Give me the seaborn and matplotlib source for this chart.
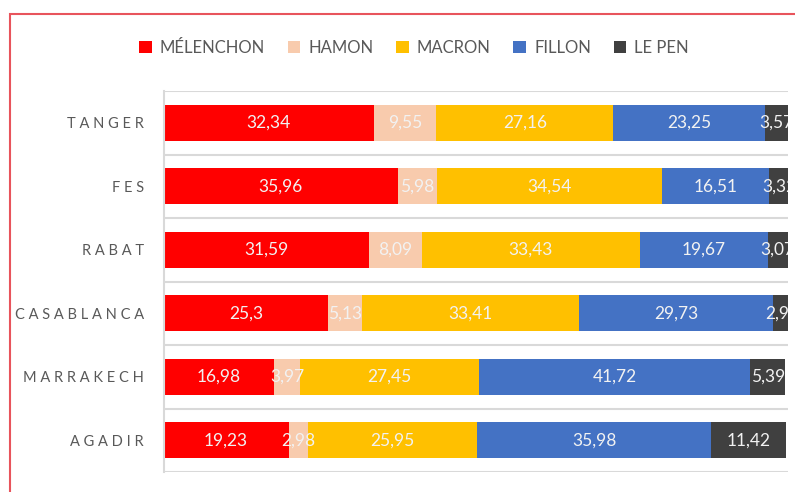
import numpy as np
import pandas as pd
import matplotlib
matplotlib.use("Agg")
import matplotlib.pyplot as plt
import seaborn as sns
from matplotlib.patches import Rectangle, Patch

villes = ["TANGER", "FES", "RABAT", "CASABLANCA", "MARRAKECH", "AGADIR"]
candidats = ["MÉLENCHON", "HAMON", "MACRON", "FILLON", "LE PEN"]
melenchon = [32.34, 35.96, 31.59, 25.3, 16.98, 19.23]
hamon = [9.55, 5.98, 8.09, 5.13, 3.97, 2.98]
macron = [27.16, 34.54, 33.43, 33.41, 27.45, 25.95]
fillon = [23.25, 16.51, 19.67, 29.73, 41.72, 35.98]
lepen = [3.57, 3.32, 3.07, 2.92, 5.39, 11.42]
couleurs = ["#FF0000", "#F8CBAD", "#FFC000", "#4472C4", "#404040"]

df = pd.DataFrame({"ville": villes, "MÉLENCHON": melenchon, "HAMON": hamon,
                   "MACRON": macron, "FILLON": fillon, "LE PEN": lepen})
cum = df[candidats].cumsum(axis=1)

sns.set_style("white")
plt.rcParams["font.family"] = ["Lato", "DejaVu Sans"]

fig = plt.figure(figsize=(7.95, 4.92), dpi=100)
ax = fig.add_axes([163.5 / 795, 1 - 472 / 492, (788 - 163.5) / 795, (472 - 91) / 492])

# stacked bars: draw cumulative totals from the longest down
for cand, col in zip(candidats[::-1], couleurs[::-1]):
    sns.barplot(x=cum[cand], y=df["ville"], orient="h", color=col, width=0.57,
                saturation=1, edgecolor="none", linewidth=0, ax=ax)

# data labels
for i in range(len(villes)):
    for cand in candidats:
        v = df.loc[i, cand]
        xc = cum.loc[i, cand] - v / 2
        ax.text(xc, i, f"{v:g}".replace(".", ","), ha="center", va="center",
                color="#F2F2F2", fontsize=12.5, clip_on=True)

ax.set_xlim(0, 95.9)
ax.set_ylim(5.5, -0.5)
for yb in np.arange(-0.5, 6, 1):
    ax.axhline(yb, color="#D9D9D9", lw=1.5, zorder=0)
ax.set_xticks([])
ax.set_xlabel("")
ax.set_ylabel("")
ax.set_yticks(range(len(villes)))
ax.set_yticklabels([" ".join(v) for v in villes], fontsize=10.5, color="#595959")
ax.tick_params(axis="y", length=0, pad=14)
for s in ["top", "right", "bottom"]:
    ax.spines[s].set_visible(False)
ax.spines["left"].set_color("#D9D9D9")
ax.spines["left"].set_linewidth(1.5)

handles = [Patch(facecolor=c, edgecolor="none") for c in couleurs]
fig.legend(handles, candidats, loc="center", bbox_to_anchor=(414 / 795, 1 - 48 / 492),
           ncol=5, frameon=False, fontsize=12, labelcolor="#595959",
           handlelength=0.75, handleheight=0.75, handletextpad=0.5, columnspacing=1.35)

# red frame of the chart area (cropped at right and bottom)
fig.add_artist(Rectangle((9.5 / 795, -0.2), 1.5, 1 - 14 / 492 + 0.2, transform=fig.transFigure,
                         fill=False, edgecolor="#E8545C", lw=1.5))

fig.savefig("out.png", dpi=100)
